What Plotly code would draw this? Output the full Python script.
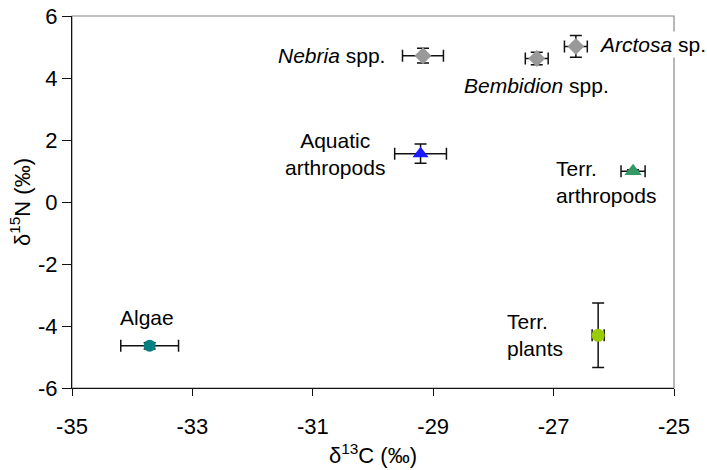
import plotly.graph_objects as go

# ---- data ----
groups = ["Nebria spp.", "Bembidion spp.", "Arctosa sp.", "Aquatic arthropods",
          "Terr. arthropods", "Algae", "Terr. plants"]
label_text = ["<i>Nebria</i> spp.", "<i>Bembidion</i> spp.", "<i>Arctosa</i> sp.",
              "Aquatic<br>arthropods", "Terr.<br>arthropods", "Algae", "Terr.<br>plants"]
d13C = [-29.17, -27.28, -26.63, -29.21, -25.68, -33.71, -26.26]
d15N = [4.72, 4.63, 5.02, 1.56, 0.99, -4.64, -4.30]
d13C_err = [0.34, 0.19, 0.19, 0.43, 0.20, 0.48, 0.10]
d15N_err = [0.24, 0.20, 0.35, 0.31, 0.05, 0.10, 1.04]
x_ticks = [-35, -33, -31, -29, -27, -25]
y_ticks = [-6, -4, -2, 0, 2, 4, 6]

# ---- styles ----
symbols = ["diamond", "diamond", "diamond", "triangle-up", "triangle-up", "circle", "circle"]
colors = ["#999999", "#999999", "#999999", "#1a1aff", "#339966", "#008080", "#99cc00"]
sizes = [13, 13, 13, 14, 15, 12, 13]
# label placement (pixel offsets from the point)
lab_xanchor = ["right", "center", "left", "right", "left", "center", "left"]
lab_align = ["right", "center", "left", "center", "left", "center", "left"]
lab_xshift = [-36, 0, 21, -34, -79, -3, -93]
lab_yshift = [0, -27, 2, 0, -11, 28, 0]
lab_bg = ["rgba(0,0,0,0)", "rgba(0,0,0,0)", "white", "rgba(0,0,0,0)",
          "rgba(0,0,0,0)", "rgba(0,0,0,0)", "rgba(0,0,0,0)"]

FONT = "Liberation Sans, Arial, sans-serif"

fig = go.Figure()
# error bars first (drawn beneath markers)
fig.add_trace(go.Scatter(
    x=d13C, y=d15N, mode="markers", name="error bars",
    marker=dict(size=1, opacity=0),
    error_x=dict(type="data", array=d13C_err, color="#111111", thickness=1.5, width=6),
    error_y=dict(type="data", array=d15N_err, color="#111111", thickness=1.5, width=6),
    showlegend=False, hoverinfo="skip",
))
for i, g in enumerate(groups):
    fig.add_trace(go.Scatter(
        x=[d13C[i]], y=[d15N[i]], mode="markers", name=g,
        marker=dict(symbol=symbols[i], color=colors[i], size=sizes[i],
                    line=dict(width=0)),
        showlegend=False,
    ))
    fig.add_annotation(
        x=d13C[i], y=d15N[i], text=label_text[i], showarrow=False,
        xanchor=lab_xanchor[i], yanchor="middle", align=lab_align[i],
        xshift=lab_xshift[i], yshift=lab_yshift[i],
        bgcolor=lab_bg[i], borderpad=1,
        font=dict(family=FONT, size=21, color="#000000"),
    )

# gray frame (top/right), axis lines drawn in black on top
fig.add_shape(type="rect", xref="paper", yref="paper", x0=0, x1=1, y0=0, y1=1,
              line=dict(color="#888888", width=1.2), layer="below")

fig.update_xaxes(
    range=[-35, -25], tickvals=x_ticks, ticktext=[str(v) for v in x_ticks],
    showgrid=False, zeroline=False, showline=True, linecolor="#111111", linewidth=1.3,
    ticks="outside", ticklen=7, tickcolor="#111111", tickwidth=1.2,
    tickfont=dict(family=FONT, size=22, color="#000000"),
    ticklabelstandoff=11, automargin=False,
    title=dict(text="δ<sup>13</sup>C (‰)", font=dict(family=FONT, size=22, color="#000000"),
               standoff=10),
)
fig.update_yaxes(
    range=[-6, 6], tickvals=y_ticks, ticktext=[str(v) for v in y_ticks],
    showgrid=False, zeroline=False, showline=True, linecolor="#111111", linewidth=1.3,
    ticks="outside", ticklen=9, tickcolor="#111111", tickwidth=1.2,
    tickfont=dict(family=FONT, size=22, color="#000000"),
    ticklabelstandoff=0, automargin=False,
    title=dict(text="δ<sup>15</sup>N (‰)", font=dict(family=FONT, size=22, color="#000000"),
               standoff=1),
)
fig.update_layout(
    width=707, height=470,
    margin=dict(l=72, r=33, t=16, b=82, autoexpand=False),
    plot_bgcolor="white", paper_bgcolor="white",
    font=dict(family=FONT),
)
# remove the default page margin so the figure sits at the window's top-left corner
fig.write_html("out.html", config={"displayModeBar": False},
               post_script="document.body.style.margin='0';")
